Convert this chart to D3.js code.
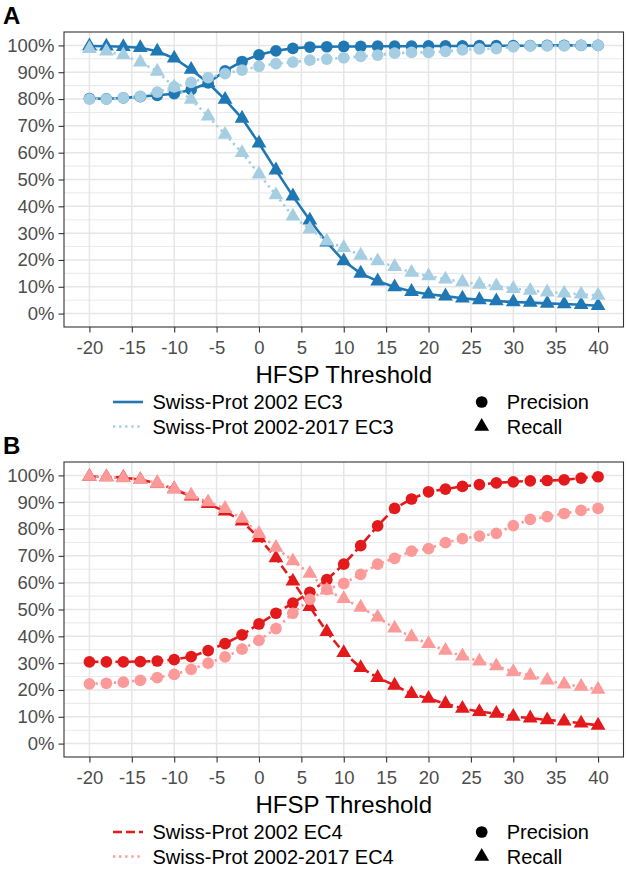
<!DOCTYPE html>
<html>
<head>
<meta charset="utf-8">
<script src="https://cdn.jsdelivr.net/npm/d3@7"></script>
<style>
  html, body { margin: 0; padding: 0; background: #fff; }
  svg { display: block; font-family: "Liberation Sans", Arial, Helvetica, sans-serif; }
</style>
</head>
<body>
<svg id="chart" width="627" height="874"></svg>
<script>
// ---- data ----
const thresholds = [-20,-18,-16,-14,-12,-10,-8,-6,-4,-2,0,2,4,6,8,10,12,14,16,18,20,22,24,26,28,30,32,34,36,38,40];
const xTickValues = [-20,-15,-10,-5,0,5,10,15,20,25,30,35,40];
const yTickValues = [0,10,20,30,40,50,60,70,80,90,100];
const yGridMinor = [5,15,25,35,45,55,65,75,85,95];

// Panel A (EC3)
const ec3_2002_precision = [80.2,80.1,80.4,80.9,81.4,82,83.5,86,90.5,94,96.5,98,98.9,99.4,99.5,99.6,99.6,99.7,99.7,99.7,99.8,99.8,99.8,99.9,99.9,99.9,99.9,100,100,100,100];
const ec3_2002_recall = [99.8,99.7,99.5,99.1,97.8,95.2,91,86,79.8,72.8,63.5,53.5,43.8,34.8,26.6,19.6,15,12.1,9.9,8.2,7.2,6.5,5.7,5.1,4.7,4.3,4.1,3.8,3.6,3.3,2.9];
const ec3_all_precision = [80,80,80.4,81,82.6,84.5,86.2,88,89.5,90.8,92.2,93.2,93.8,94.5,94.9,95.4,95.9,96.4,97.1,97.4,97.4,97.8,98.3,98.7,98.8,99.5,99.8,99.8,99.8,100,100];
const ec3_all_recall = [98.8,97.8,96.4,93.7,90.3,84.5,79.8,73.6,66.8,60,52,44.2,36.3,31.5,27,24.6,21.7,19.6,17.5,15.3,14,12.8,11.8,10.9,10.3,9.3,8.6,8,7.6,7.2,6.8];

// Panel B (EC4)
const ec4_2002_precision = [30.5,30.5,30.5,30.6,30.8,31.3,32.4,34.7,37.3,40.5,44.6,48.6,52.4,56.4,61.1,66.9,73.8,81.2,87.7,91.2,93.9,94.9,95.9,96.6,97.2,97.6,98,98.1,98.3,99,99.5];
const ec4_2002_recall = [99.6,99.4,99.2,98.4,97.1,94.9,92.2,89.4,86.6,82.9,76.7,69.2,60.5,51,41.7,33.9,28.3,24.6,21.7,18.6,16.8,14.9,13.1,11.9,11.2,10.1,9.5,8.8,8.3,7.6,6.8];
const ec4_all_precision = [22.3,22.5,22.9,23.6,24.6,25.8,27.7,30,32.3,35.2,38.5,42.9,48.6,53.8,57.5,59.7,63.1,66.9,69.1,71.8,72.7,74.9,76.4,77.4,78.4,81.3,83.6,84.6,85.8,87,87.7];
const ec4_all_recall = [99.6,99.4,99,98.4,97.3,94.9,92.6,90.1,87.6,83.9,78.3,73.1,68.1,63.4,57.2,54,50.8,47.1,43,39.8,37.2,34.7,32.6,30.7,28.9,26.8,25.4,23.6,22.1,21.3,20.2];

const panelALabels = ["Swiss-Prot 2002 EC3", "Swiss-Prot 2002-2017 EC3"];
const panelBLabels = ["Swiss-Prot 2002 EC4", "Swiss-Prot 2002-2017 EC4"];
const metricLabels = ["Precision", "Recall"];
const xTitle = "HFSP Threshold";

// ---- drawing ----
const svg = d3.select("#chart");
const fmtPct = d => String(d) + "%";
const fmtNum = d => String(d);

function drawPanel(oy, letter, labels, series, colors, dashes) {
  const g = svg.append("g").attr("transform", `translate(0,${oy})`);
  const left = 64, right = 623.5, top = 32, bottom = 327;
  const x = d3.scaleLinear().domain([-23, 43]).range([left, right]);
  const y = d3.scaleLinear().domain([-5, 105]).range([bottom, top]);

  // grid
  const grid = g.append("g");
  grid.selectAll(".gmin").data(yGridMinor).join("line")
    .attr("x1", left).attr("x2", right)
    .attr("y1", d => y(d)).attr("y2", d => y(d))
    .attr("stroke", "#ebebeb").attr("stroke-width", 1.1);
  grid.selectAll(".gy").data(yTickValues).join("line")
    .attr("x1", left).attr("x2", right)
    .attr("y1", d => y(d)).attr("y2", d => y(d))
    .attr("stroke", "#e6e6e6").attr("stroke-width", 1.5);
  grid.selectAll(".gx").data(xTickValues).join("line")
    .attr("y1", top).attr("y2", bottom)
    .attr("x1", d => x(d)).attr("x2", d => x(d))
    .attr("stroke", "#e6e6e6").attr("stroke-width", 1.5);

  // lines
  const line = d3.line().x((d, i) => x(thresholds[i])).y(d => y(d));
  series.forEach(s => {
    g.append("path").datum(s.values)
      .attr("fill", "none")
      .attr("stroke", colors[s.group])
      .attr("stroke-width", 2.6)
      .attr("stroke-dasharray", dashes[s.group])
      .attr("d", line);
  });
  // points
  const circ = d3.symbol().type(d3.symbolCircle).size(108);
  const tri = d3.symbol().type(d3.symbolTriangle).size(95);
  series.forEach(s => {
    g.append("g").selectAll("path").data(s.values).join("path")
      .attr("transform", (d, i) => `translate(${x(thresholds[i])},${y(d)})`)
      .attr("d", s.metric === 0 ? circ() : tri())
      .attr("fill", colors[s.group]);
  });

  // border
  g.append("rect").attr("x", left).attr("y", top)
    .attr("width", right - left).attr("height", bottom - top)
    .attr("fill", "none").attr("stroke", "#333333").attr("stroke-width", 1.1);

  // axes
  const yAxis = g.append("g").attr("transform", `translate(${left},0)`)
    .call(d3.axisLeft(y).tickValues(yTickValues).tickFormat(fmtPct).tickSize(5.5).tickPadding(4));
  const xAxis = g.append("g").attr("transform", `translate(0,${bottom})`)
    .call(d3.axisBottom(x).tickValues(xTickValues).tickFormat(fmtNum).tickSize(5.5).tickPadding(4));
  [yAxis, xAxis].forEach(a => {
    a.select(".domain").remove();
    a.selectAll(".tick line").attr("stroke", "#333333").attr("stroke-width", 1.1);
    a.selectAll(".tick text").attr("fill", "#4d4d4d")
      .style("font-size", "18.5px").style("font-family", "Liberation Sans, Arial, sans-serif");
  });
  xAxis.selectAll(".tick text").attr("dy", "0.92em");

  // axis title
  g.append("text").attr("x", (left + right) / 2).attr("y", 382.5)
    .attr("text-anchor", "middle").style("font-size", "24px").attr("fill", "#000")
    .text(xTitle);

  // panel letter
  g.append("text").attr("x", 3).attr("y", 23.5).style("font-size", "24px")
    .style("font-weight", "bold").attr("fill", "#000").text(letter);

  // legend: linetype
  const rows = [402, 426.5];
  labels.forEach((lab, i) => {
    g.append("line").attr("x1", 113).attr("x2", 143).attr("y1", rows[i]).attr("y2", rows[i])
      .attr("stroke", colors[i]).attr("stroke-width", 2.6)
      .attr("stroke-dasharray", dashes[i]);
    g.append("text").attr("x", 152.5).attr("y", rows[i]).attr("dy", "0.35em")
      .style("font-size", "20px").attr("fill", "#000").text(lab);
  });
  // legend: shape
  metricLabels.forEach((lab, i) => {
    g.append("path")
      .attr("transform", `translate(481.7,${rows[i]})`)
      .attr("d", i === 0 ? circ() : tri())
      .attr("fill", "#000");
    g.append("text").attr("x", 506.7).attr("y", rows[i]).attr("dy", "0.35em")
      .style("font-size", "20px").attr("fill", "#000").text(lab);
  });
}

drawPanel(0, "A", panelALabels, [
  { group: 0, metric: 0, values: ec3_2002_precision },
  { group: 0, metric: 1, values: ec3_2002_recall },
  { group: 1, metric: 0, values: ec3_all_precision },
  { group: 1, metric: 1, values: ec3_all_recall }
], ["#1f78b4", "#a6cee3"], [null, "2.3,3.8"]);

drawPanel(430, "B", panelBLabels, [
  { group: 0, metric: 0, values: ec4_2002_precision },
  { group: 0, metric: 1, values: ec4_2002_recall },
  { group: 1, metric: 0, values: ec4_all_precision },
  { group: 1, metric: 1, values: ec4_all_recall }
], ["#e31a1c", "#fb9a99"], ["9,4", "2.3,3.8"]);
</script>
</body>
</html>
